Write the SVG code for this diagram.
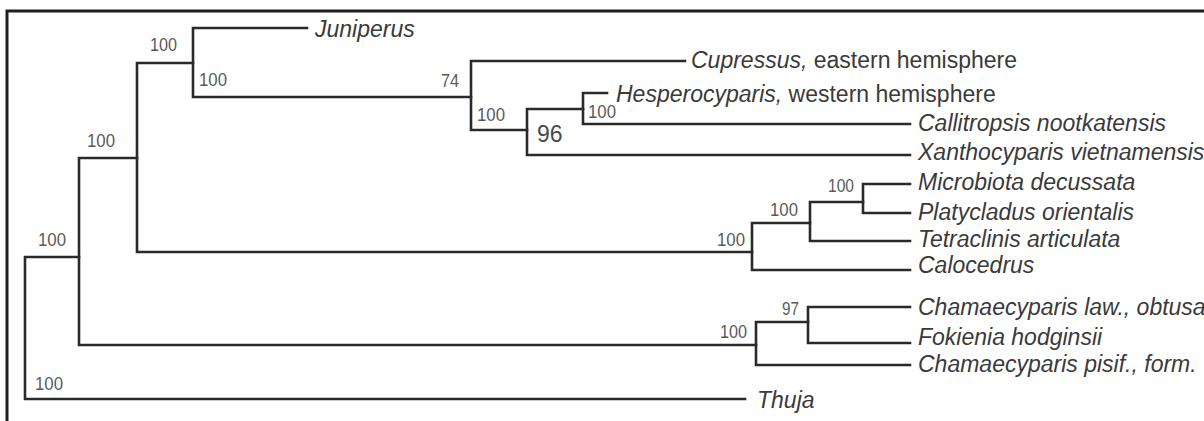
<svg xmlns="http://www.w3.org/2000/svg" width="1204" height="421" viewBox="0 0 1204 421">
<style>
.frame{fill:none;stroke:#1e1e1e;stroke-width:3}
.br{fill:none;stroke:#2a2a2a;stroke-width:2.6;stroke-linecap:square}
.tx{font-family:"Liberation Sans",Arial,sans-serif;font-size:23px;fill:#3a3a3a;font-style:italic}
.rg{font-style:normal}
.bs{font-family:"Liberation Sans",Arial,sans-serif;font-size:19px;fill:#5a5a5a}
.big{font-family:"Liberation Sans",Arial,sans-serif;font-size:23px;fill:#4a4a4a}
</style>
<rect width="1204" height="421" fill="#ffffff"/>
<path class="frame" d="M7,421 V11 H1204"/>
<g id="connectors">
<path class="br" d="M25,257 V399 M25,257 H79 M25,399 H745"/>
<path class="br" d="M79,158 V345 M79,158 H137 M79,345 H756"/>
<path class="br" d="M137,63 V252 M137,63 H193 M137,252 H752"/>
<path class="br" d="M193,28 V97 M193,28 H307 M193,97 H471"/>
<path class="br" d="M471,61 V130 M471,61 H685 M471,130 H527"/>
<path class="br" d="M527,109 V155 M527,109 H583 M527,155 H910"/>
<path class="br" d="M583,93 V124 M583,93 H607 M583,124 H910"/>
<path class="br" d="M752,223 V270 M752,223 H810 M752,270 H910"/>
<path class="br" d="M810,202 V241 M810,202 H863 M810,241 H910"/>
<path class="br" d="M863,184 V213 M863,184 H910 M863,213 H910"/>
<path class="br" d="M756,322 V365 M756,322 H808 M756,365 H910"/>
<path class="br" d="M808,307 V343 M808,307 H910 M808,343 H910"/>
</g>
<g id="support">
<text class="bs" x="38" y="246" textLength="28" lengthAdjust="spacingAndGlyphs">100</text>
<text class="bs" x="35" y="390" textLength="28" lengthAdjust="spacingAndGlyphs">100</text>
<text class="bs" x="87" y="147" textLength="28" lengthAdjust="spacingAndGlyphs">100</text>
<text class="bs" x="150" y="51" textLength="27" lengthAdjust="spacingAndGlyphs">100</text>
<text class="bs" x="199" y="86" textLength="28" lengthAdjust="spacingAndGlyphs">100</text>
<text class="bs" x="441" y="87" textLength="18" lengthAdjust="spacingAndGlyphs">74</text>
<text class="bs" x="477" y="121" textLength="28" lengthAdjust="spacingAndGlyphs">100</text>
<text class="big" x="537" y="142">96</text>
<text class="bs" x="588" y="118" textLength="28" lengthAdjust="spacingAndGlyphs">100</text>
<text class="bs" x="828" y="192" textLength="26" lengthAdjust="spacingAndGlyphs">100</text>
<text class="bs" x="770" y="216" textLength="28" lengthAdjust="spacingAndGlyphs">100</text>
<text class="bs" x="717" y="246" textLength="28" lengthAdjust="spacingAndGlyphs">100</text>
<text class="bs" x="782" y="315" textLength="17" lengthAdjust="spacingAndGlyphs">97</text>
<text class="bs" x="720" y="338" textLength="27" lengthAdjust="spacingAndGlyphs">100</text>
</g>
<g id="n-juniperus"><text class="tx" x="315" y="37">Juniperus</text></g>
<g id="n-cupressus"><text class="tx" x="691" y="68">Cupressus,<tspan class="rg"> eastern hemisphere</tspan></text></g>
<g id="n-hesperocyparis"><text class="tx" x="616" y="102">Hesperocyparis,<tspan class="rg"> western hemisphere</tspan></text></g>
<g id="n-callitropsis"><text class="tx" x="918" y="131">Callitropsis nootkatensis</text></g>
<g id="n-xanthocyparis"><text class="tx" x="918" y="160">Xanthocyparis vietnamensis</text></g>
<g id="n-microbiota"><text class="tx" x="918" y="190">Microbiota decussata</text></g>
<g id="n-platycladus"><text class="tx" x="918" y="220">Platycladus orientalis</text></g>
<g id="n-tetraclinis"><text class="tx" x="918" y="247">Tetraclinis articulata</text></g>
<g id="n-calocedrus"><text class="tx" x="918" y="273">Calocedrus</text></g>
<g id="n-chamaecyparis-law"><text class="tx" x="918" y="315">Chamaecyparis law., obtusa</text></g>
<g id="n-fokienia"><text class="tx" x="918" y="345">Fokienia hodginsii</text></g>
<g id="n-chamaecyparis-pisif"><text class="tx" x="918" y="372">Chamaecyparis pisif., form.</text></g>
<g id="n-thuja"><text class="tx" x="757" y="408">Thuja</text></g>
</svg>
